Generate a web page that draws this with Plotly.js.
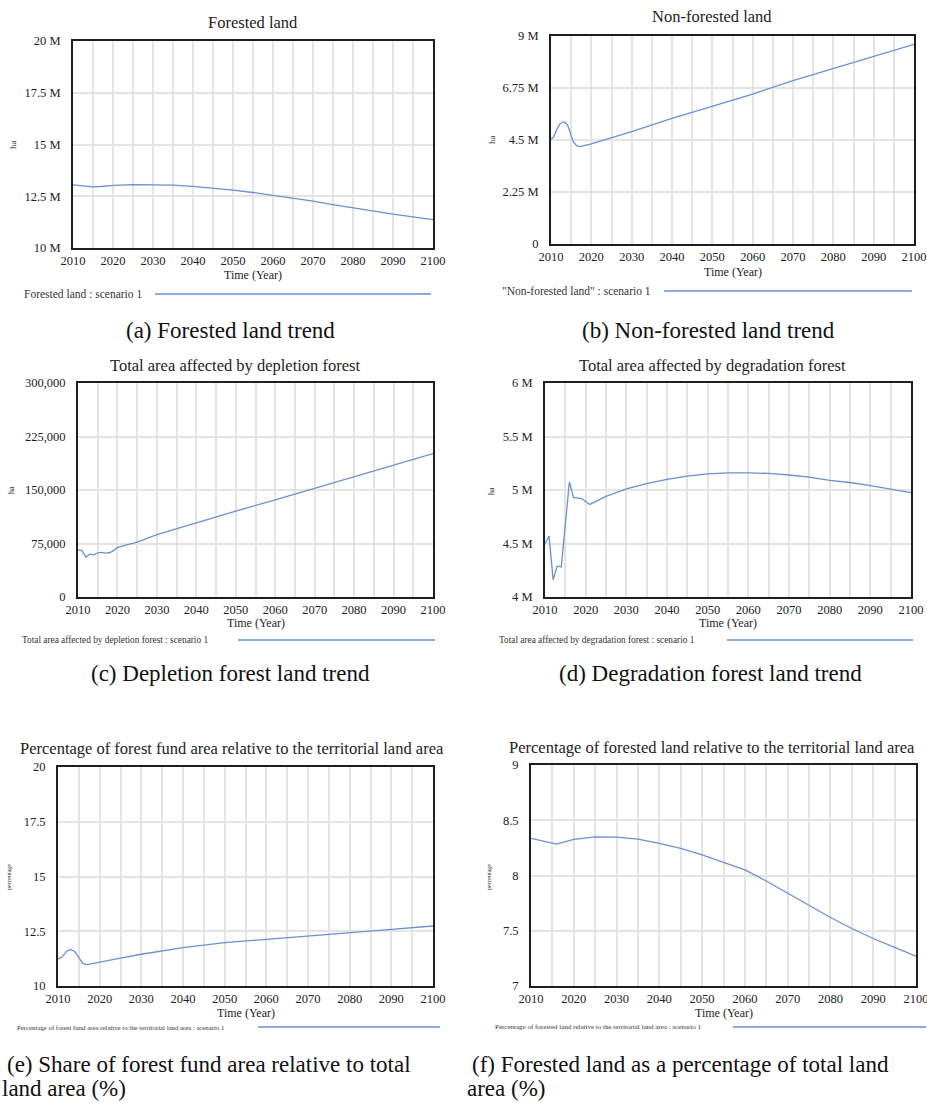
<!DOCTYPE html>
<html><head><meta charset="utf-8">
<script src="https://cdn.plot.ly/plotly-3.0.1.min.js"></script>
<style>html,body{margin:0;padding:0;background:#fff}#chart{width:927px;height:1103px}</style>
</head><body><div id="chart"></div>
<script>
// ---------- DATA ----------
const yearsForested = [2010, 2012, 2015, 2017, 2020, 2025, 2030, 2035, 2040, 2045, 2050, 2055, 2060, 2065, 2070, 2075, 2080, 2085, 2090, 2095, 2100];
const forestedLand  = [13.05e6, 13.0e6, 12.95e6, 12.97e6, 13.03e6, 13.06e6, 13.06e6, 13.04e6, 12.98e6, 12.9e6, 12.8e6, 12.68e6, 12.55e6, 12.41e6, 12.26e6, 12.1e6, 11.94e6, 11.79e6, 11.64e6, 11.5e6, 11.37e6];

const yearsNonForested = [2010, 2010.6, 2011.4, 2012.2, 2013.2, 2014.1, 2014.7, 2015.5, 2016.4, 2017.2, 2020, 2025, 2030, 2040, 2050, 2060, 2070, 2080, 2090, 2100];
const nonForestedLand  = [4.53e6, 4.62e6, 4.93e6, 5.19e6, 5.29e6, 5.15e6, 4.86e6, 4.43e6, 4.24e6, 4.21e6, 4.33e6, 4.6e6, 4.86e6, 5.44e6, 5.97e6, 6.49e6, 7.07e6, 7.6e6, 8.11e6, 8.64e6];

const yearsDepletion = [2010, 2011, 2012, 2013, 2014, 2015, 2016, 2017, 2018, 2019, 2020, 2025, 2030, 2040, 2050, 2060, 2070, 2080, 2090, 2100];
const depletionArea  = [66000, 65000, 56000, 60000, 59000, 62000, 62500, 61500, 62000, 65000, 69500, 77000, 87500, 104500, 120500, 136000, 152000, 168000, 184500, 201000];

const yearsDegradation = [2010, 2011, 2012, 2013, 2014, 2016, 2017, 2019, 2021, 2025, 2030, 2035, 2040, 2045, 2050, 2055, 2060, 2065, 2070, 2075, 2080, 2085, 2090, 2095, 2100];
const degradationArea  = [4.50e6, 4.57e6, 4.16e6, 4.29e6, 4.28e6, 5.075e6, 4.93e6, 4.92e6, 4.865e6, 4.94e6, 5.01e6, 5.06e6, 5.10e6, 5.13e6, 5.15e6, 5.16e6, 5.16e6, 5.155e6, 5.14e6, 5.12e6, 5.09e6, 5.07e6, 5.04e6, 5.01e6, 4.975e6];

const yearsFundPct = [2010, 2011, 2012, 2013, 2014, 2015, 2016, 2017, 2020, 2025, 2030, 2040, 2050, 2060, 2070, 2080, 2090, 2100];
const forestFundPct = [11.23, 11.32, 11.58, 11.67, 11.58, 11.32, 11.02, 10.98, 11.08, 11.27, 11.45, 11.75, 11.98, 12.14, 12.30, 12.44, 12.59, 12.74];

const yearsForestedPct = [2010, 2015, 2016, 2020, 2025, 2030, 2035, 2040, 2045, 2050, 2055, 2060, 2065, 2070, 2075, 2080, 2085, 2090, 2095, 2100];
const forestedPct = [8.336, 8.29, 8.285, 8.327, 8.35, 8.348, 8.33, 8.29, 8.245, 8.186, 8.116, 8.05, 7.95, 7.84, 7.73, 7.62, 7.52, 7.43, 7.35, 7.27];

// tick labels
const ticksA = [10e6, 12.5e6, 15e6, 17.5e6, 20e6];
const tickTextA = ['10 M', '12.5 M', '15 M', '17.5 M', '20 M'];
const ticksB = [0, 2.25e6, 4.5e6, 6.75e6, 9e6];
const tickTextB = ['0', '2.25 M', '4.5 M', '6.75 M', '9 M'];
const ticksC = [0, 75000, 150000, 225000, 300000];
const tickTextC = ['0', '75,000', '150,000', '225,000', '300,000'];
const ticksD = [4e6, 4.5e6, 5e6, 5.5e6, 6e6];
const tickTextD = ['4 M', '4.5 M', '5 M', '5.5 M', '6 M'];
const ticksE = [10, 12.5, 15, 17.5, 20];
const tickTextE = ['10', '12.5', '15', '17.5', '20'];
const ticksF = [7, 7.5, 8, 8.5, 9];
const tickTextF = ['7', '7.5', '8', '8.5', '9'];

const chartTitles = ['Forested land', 'Non-forested land', 'Total area affected by depletion forest', 'Total area affected by degradation forest', 'Percentage of forest fund area relative to the territorial land area', 'Percentage of forested land relative to the territorial land area'];
const yTitles = ['ha', 'ha', 'ha', 'ha', 'percentage', 'percentage'];
const legendTexts = ['Forested land : scenario 1', '"Non-forested land" : scenario 1', 'Total area affected by depletion forest : scenario 1', 'Total area affected by degradation forest : scenario 1', 'Percentage of forest fund area relative to the territorial land area : scenario 1', 'Percentage of forested land relative to the territorial land area : scenario 1'];
const captions = ['(a) Forested land trend', '(b) Non-forested land trend', '(c) Depletion forest land trend', '(d) Degradation forest land trend'];
const captionE = ['(e) Share of forest fund area relative to total', 'land area (%)'];
const captionF = ['(f) Forested land as a percentage of total land', 'area (%)'];

// ---------- LAYOUT CONFIG (pixels) ----------
const W = 927, H = 1103;
const fx = p => p / W, fy = p => 1 - p / H;
const FONT = '"Liberation Serif", "Times New Roman", serif';
const LINE = '#6a8fd3';
const GRID = '#e4e4e4';

const panels = [
  {x: yearsForested, y: forestedLand, range: [10e6, 20e6], tv: ticksA, tt: tickTextA,
   box: [73, 433, 41, 248], title: [253, 23], yt: [13, 145, 9], leg: [22, 294, 11.5, 155, 431], time: 275},
  {x: yearsNonForested, y: nonForestedLand, range: [0, 9e6], tv: ticksB, tt: tickTextB,
   box: [551, 914, 36, 244], title: [712, 17], yt: [492, 140, 9], leg: [500, 291, 11.5, 664, 912], time: 272},
  {x: yearsDepletion, y: depletionArea, range: [0, 300000], tv: ticksC, tt: tickTextC,
   box: [78, 433, 383, 597], title: [235, 365], yt: [12, 490, 8], leg: [20, 640, 9.3, 238, 435], time: 623},
  {x: yearsDegradation, y: degradationArea, range: [4e6, 6e6], tv: ticksD, tt: tickTextD,
   box: [545, 911, 383, 597], title: [712, 365], yt: [491, 491, 8], leg: [497, 640, 9.3, 727, 913], time: 623},
  {x: yearsFundPct, y: forestFundPct, range: [10, 20], tv: ticksE, tt: tickTextE,
   box: [58, 433, 767, 986], title: [232, 748], yt: [9, 877, 6], leg: [15, 1027, 6.8, 258, 440], time: 1013},
  {x: yearsForestedPct, y: forestedPct, range: [7, 9], tv: ticksF, tt: tickTextF,
   box: [531, 916, 765, 986], title: [712, 747], yt: [489, 877, 6], leg: [493, 1027, 7, 733, 926], time: 1013}
];

const data = [];
const layout = {
  width: W, height: H, margin: {l: 0, r: 0, t: 0, b: 0},
  paper_bgcolor: '#fff', plot_bgcolor: '#fff', showlegend: false,
  font: {family: FONT, color: '#222'},
  annotations: [], shapes: []
};

panels.forEach((p, i) => {
  const n = i + 1;
  const xa = n === 1 ? 'x' : 'x' + n, ya = n === 1 ? 'y' : 'y' + n;
  data.push({x: p.x, y: p.y, xaxis: xa, yaxis: ya, type: 'scatter', mode: 'lines',
             line: {color: LINE, width: 1.3, shape: 'linear'}, hoverinfo: 'skip'});
  const [l, r, t, b] = p.box;
  layout[n === 1 ? 'xaxis' : 'xaxis' + n] = {
    domain: [fx(l), fx(r)], anchor: ya, range: [2010, 2100], tick0: 2010, dtick: 10,
    showgrid: true, gridcolor: GRID, gridwidth: 2,
    minor: {dtick: 5, tick0: 2010, showgrid: true, gridcolor: GRID, gridwidth: 2},
    showline: true, mirror: true, linecolor: '#1e1e1e', linewidth: 2, zeroline: false,
    ticks: '', ticklabeloverflow: 'allow', tickfont: {family: FONT, size: 12.5, color: '#222'}, fixedrange: true
  };
  layout[n === 1 ? 'yaxis' : 'yaxis' + n] = {
    domain: [fy(b), fy(t)], anchor: xa, range: p.range, tickvals: p.tv, ticktext: p.tt,
    showgrid: true, gridcolor: GRID, gridwidth: 2,
    showline: true, mirror: true, linecolor: '#1e1e1e', linewidth: 2, zeroline: false,
    ticks: '', ticklabelstandoff: 8, ticklabeloverflow: 'allow', tickfont: {family: FONT, size: 12.5, color: '#222'}, fixedrange: true
  };
  layout.annotations.push({text: chartTitles[i], x: fx(p.title[0]), y: fy(p.title[1]), xref: 'paper', yref: 'paper',
    xanchor: 'center', yanchor: 'middle', showarrow: false, font: {family: FONT, size: 16.5, color: '#222'}});
  layout.annotations.push({text: yTitles[i], x: fx(p.yt[0]), y: fy(p.yt[1]), xref: 'paper', yref: 'paper',
    xanchor: 'center', yanchor: 'middle', textangle: -90, showarrow: false, font: {family: FONT, size: p.yt[2], color: '#333'}});
  layout.annotations.push({text: 'Time (Year)', x: fx((l + r) / 2), y: fy(p.time), xref: 'paper', yref: 'paper',
    xanchor: 'center', yanchor: 'middle', showarrow: false, font: {family: FONT, size: 12, color: '#222'}});
  layout.annotations.push({text: legendTexts[i], x: fx(p.leg[0]), y: fy(p.leg[1]), xref: 'paper', yref: 'paper',
    xanchor: 'left', yanchor: 'middle', showarrow: false, font: {family: FONT, size: p.leg[2], color: '#333'}});
  layout.shapes.push({type: 'line', xref: 'paper', yref: 'paper', x0: fx(p.leg[3]), x1: fx(p.leg[4]),
    y0: fy(p.leg[1]), y1: fy(p.leg[1]), line: {color: LINE, width: 1.5}});
});

// captions
const CAP = 23;
const capPos = [[230, 330], [708, 330], [230, 673], [710, 673]];
captions.forEach((c, i) => {
  layout.annotations.push({text: c, x: fx(capPos[i][0]), y: fy(capPos[i][1]), xref: 'paper', yref: 'paper',
    xanchor: 'center', yanchor: 'middle', showarrow: false, font: {family: FONT, size: CAP, color: '#111'}});
});
[[captionE, 5, 0], [captionF, 470, 465]].forEach(([lines, x1, x2]) => {
  layout.annotations.push({text: lines[0], x: fx(x1), y: fy(1064), xref: 'paper', yref: 'paper',
    xanchor: 'left', yanchor: 'middle', showarrow: false, font: {family: FONT, size: CAP, color: '#111'}});
  layout.annotations.push({text: lines[1], x: fx(x2), y: fy(1088), xref: 'paper', yref: 'paper',
    xanchor: 'left', yanchor: 'middle', showarrow: false, font: {family: FONT, size: CAP, color: '#111'}});
});

Plotly.newPlot('chart', data, layout, {staticPlot: true, displayModeBar: false});
</script></body></html>
